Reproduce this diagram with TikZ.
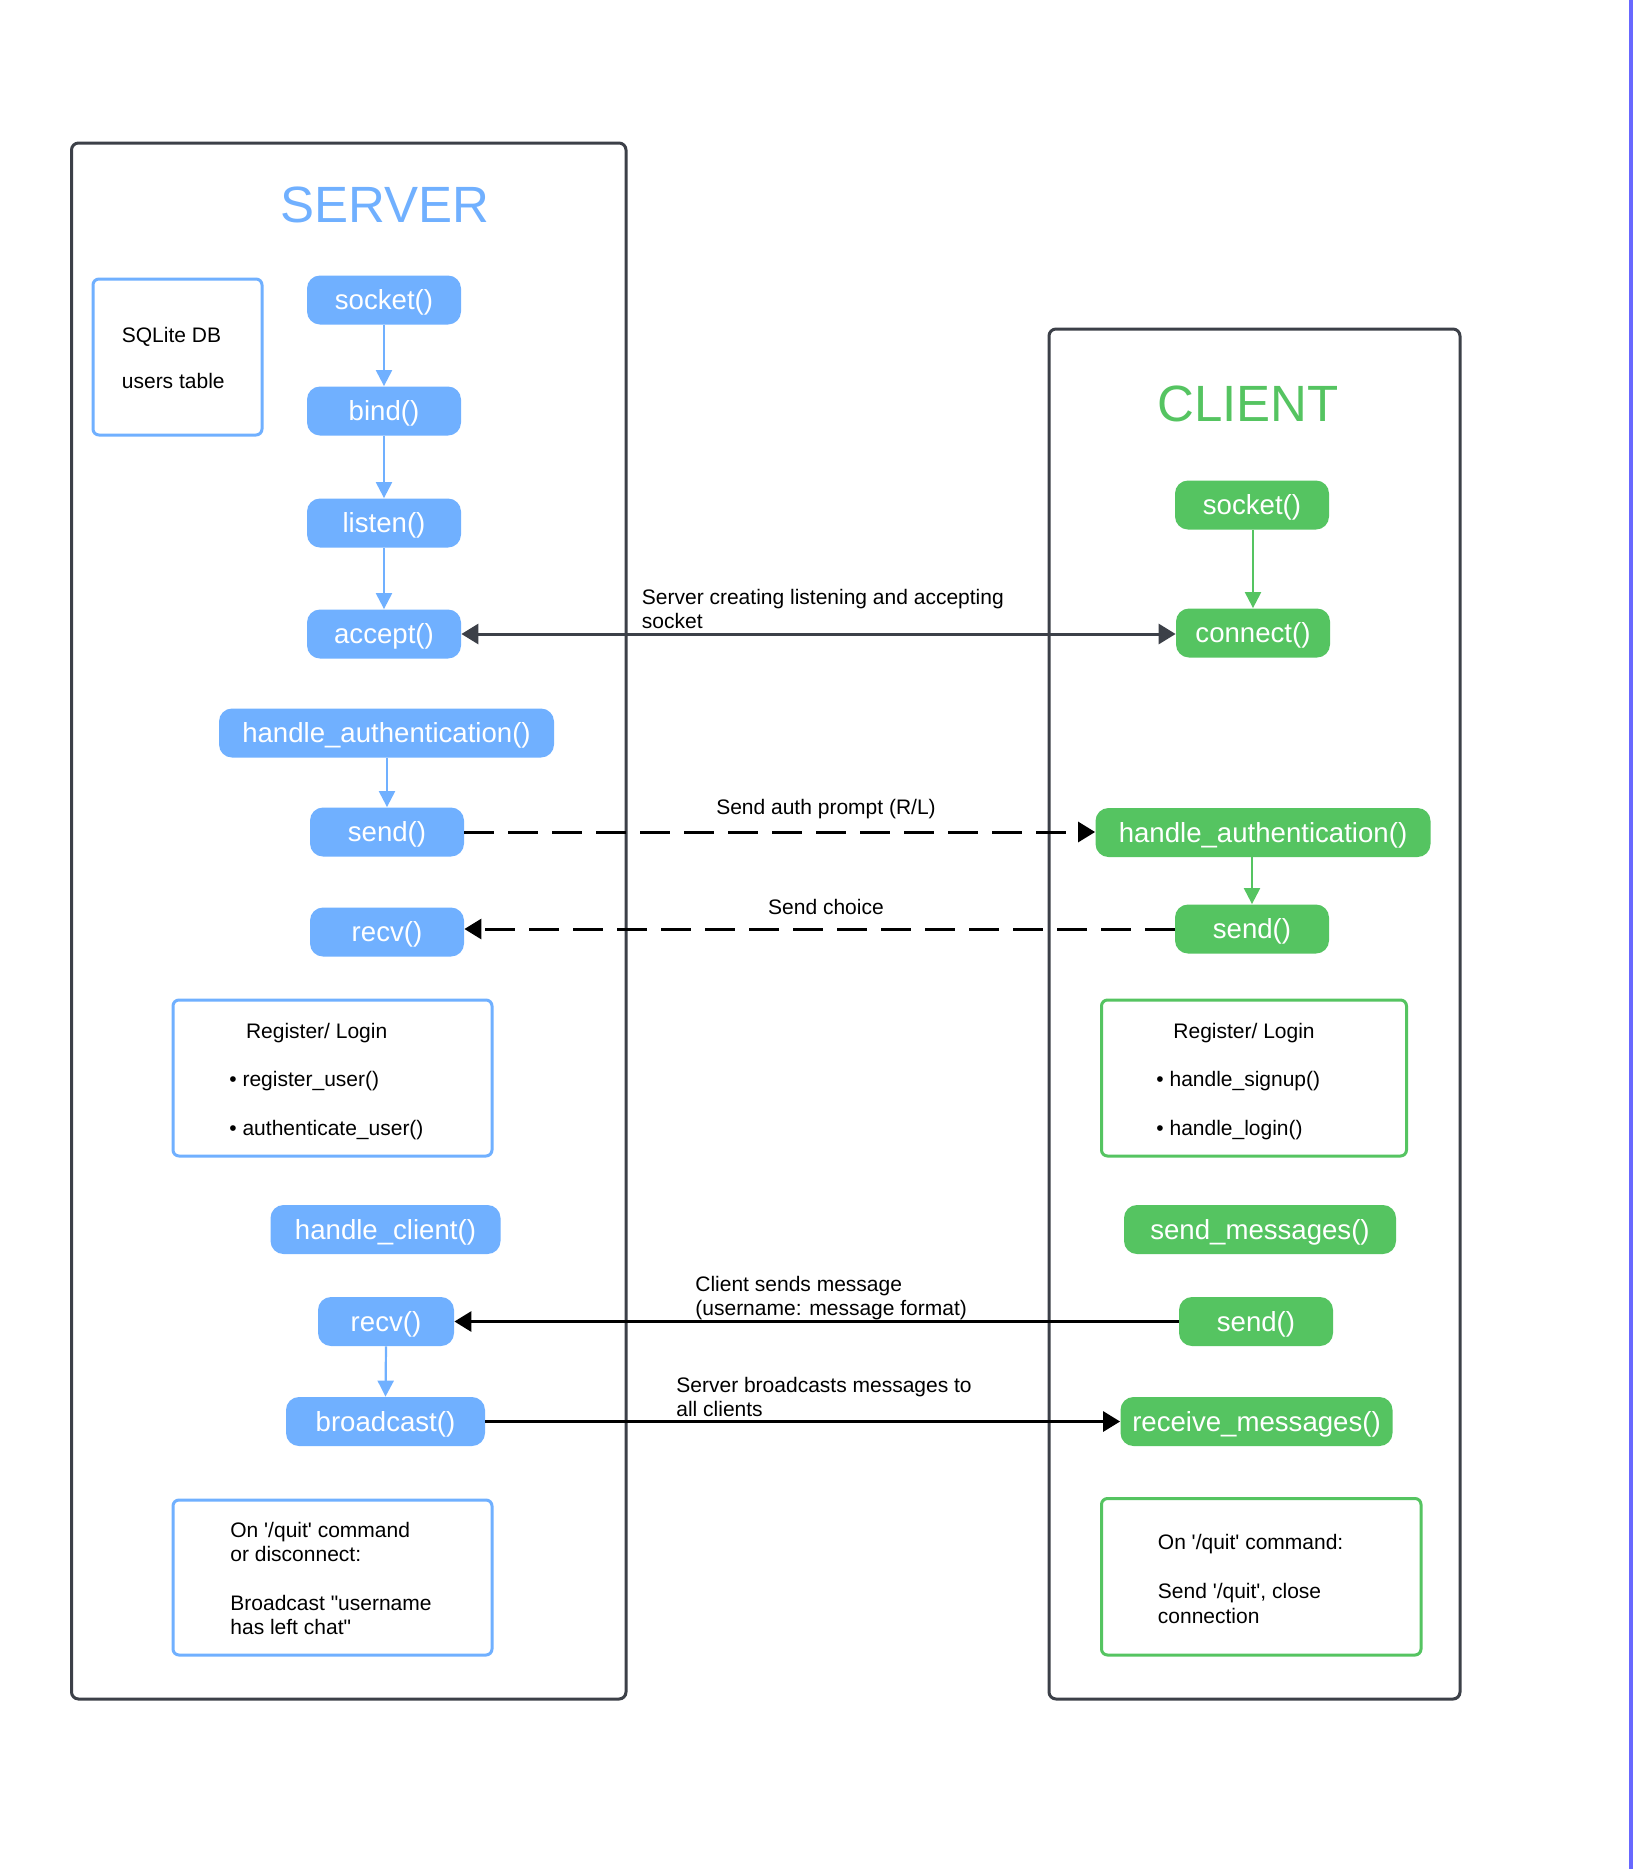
\documentclass[tikz,border=0pt]{standalone}
\usepackage{fontspec}
\setmainfont{Liberation Sans}[Ligatures=TeXOff]
\usetikzlibrary{arrows.meta}

\definecolor{srvblue}{RGB}{112,176,255}
\definecolor{cligreen}{RGB}{85,196,97}
\definecolor{lanegrey}{RGB}{60,64,72}
\definecolor{edgepurple}{RGB}{104,104,255}

\begin{document}
\begin{tikzpicture}[x=0.5pt,y=-0.5pt,
  lanebox/.style={draw=lanegrey,line width=1.5pt,rounded corners=3.5pt},
  srvbox/.style={draw=srvblue,line width=1.5pt,rounded corners=3pt},
  clibox/.style={draw=cligreen,line width=1.5pt,rounded corners=3pt},
  callbox/.style={rounded corners=6.5pt,text=white,minimum height=24.5pt,inner sep=0pt,
    text height=10pt,text depth=0.5pt,font=\fontsize{13.8}{16}\selectfont},
  srvcall/.style={callbox,fill=srvblue},
  clicall/.style={callbox,fill=cligreen},
  sidetitle/.style={font=\fontsize{25.5}{30}\selectfont},
  notetext/.style={align=left,inner sep=0pt,font=\fontsize{10.5}{12.25}\selectfont},
  flow/.style={line width=1.1pt,-{Triangle[length=8pt,width=8pt]}},
  msgline/.style={line width=1.5pt,-{Triangle[length=8.5pt,width=10pt]}},
  ]
  \fill[white] (0,0) rectangle (1638,1869);
  \useasboundingbox (0,0) rectangle (1638,1869);
  \draw[edgepurple,line width=2pt] (1631,0) -- (1631,1869);

  % server side
  \draw[lanebox] (71.5,143) rectangle (626,1699);
  \node[sidetitle,text=srvblue] (srvtitle) at (385,205) {SERVER};
  \draw[srvbox] (93,279) rectangle (262,435);
  \node[notetext,anchor=north west] (dbtext) at (121.5,326.5) {SQLite DB\\[11pt]users table};

  \node[srvcall,minimum width=77pt] (ssocket) at (384,300) {socket()};
  \node[srvcall,minimum width=77pt] (sbind) at (384,411) {bind()};
  \node[srvcall,minimum width=77pt] (slisten) at (384,523) {listen()};
  \node[srvcall,minimum width=77pt] (saccept) at (384,634) {accept()};
  \node[srvcall,minimum width=167.5pt] (sauth) at (386.5,733) {handle\_authentication()};
  \node[srvcall,minimum width=77pt] (ssend) at (387,832) {send()};
  \node[srvcall,minimum width=77pt] (srecv) at (387,932) {recv()};

  \draw[srvbox] (173,1000) rectangle (492,1156);
  \node[notetext,anchor=north west] (sregtext) at (229,1022.5)
    {\hspace*{8.3pt}Register/ Login\\[12pt]\textbullet\ register\_user()\\[12pt]\textbullet\ authenticate\_user()};

  \node[srvcall,minimum width=115pt] (shandle) at (385.5,1229.5) {handle\_client()};
  \node[srvcall,minimum width=68pt] (srecvmsg) at (386,1321.5) {recv()};
  \node[srvcall,minimum width=99.5pt] (sbcast) at (385.5,1421.5) {broadcast()};

  \draw[srvbox] (173,1500) rectangle (492,1655);
  \node[notetext,anchor=north west] (squittext) at (230,1521.5)
    {On '/quit' command\\or disconnect:\\[12pt]Broadcast "username\\has left chat"};

  % client side
  \draw[lanebox] (1049,329) rectangle (1460,1699);
  \node[sidetitle,text=cligreen] (clititle) at (1248,404) {CLIENT};

  \node[clicall,minimum width=77pt] (csocket) at (1252,505) {socket()};
  \node[clicall,minimum width=77pt] (cconnect) at (1253,633) {connect()};
  \node[clicall,minimum width=167.5pt] (cauth) at (1263,832.5) {handle\_authentication()};
  \node[clicall,minimum width=77pt] (csend) at (1252,929) {send()};

  \draw[clibox] (1101.5,1000) rectangle (1406.5,1156);
  \node[notetext,anchor=north west] (cregtext) at (1156,1022.5)
    {\hspace*{8.5pt}Register/ Login\\[12pt]\textbullet\ handle\_signup()\\[12pt]\textbullet\ handle\_login()};

  \node[clicall,minimum width=136pt] (csendmsg) at (1260,1229.5) {send\_messages()};
  \node[clicall,minimum width=77pt] (csendm) at (1256,1321.5) {send()};
  \node[clicall,minimum width=136pt] (crecvmsg) at (1256.5,1421.5) {receive\_messages()};

  \draw[clibox] (1101.5,1498.5) rectangle (1421,1655);
  \node[notetext,anchor=north west] (cquittext) at (1157.5,1533.5)
    {On '/quit' command:\\[12.5pt]Send '/quit', close\\connection};

  % steps inside each side
  \draw[flow,srvblue] (ssocket.south) -- (sbind.north);
  \draw[flow,srvblue] (sbind.south) -- (slisten.north);
  \draw[flow,srvblue] (slisten.south) -- (saccept.north);
  \draw[flow,srvblue] (sauth.south -| ssend.north) -- (ssend.north);
  \draw[flow,srvblue] (srecvmsg.south) -- (sbcast.north);
  \draw[flow,cligreen] (csocket.south -| cconnect.north) -- (cconnect.north);
  \draw[flow,cligreen] (cauth.south -| csend.north) -- (csend.north);

  % messages between server and client
  \draw[msgline,lanegrey,{Triangle[length=8.5pt,width=10pt]}-{Triangle[length=8.5pt,width=10pt]}]
    (saccept.east) -- (saccept.east -| cconnect.west);
  \node[notetext,anchor=north west] (lblaccept) at (641.5,588.5) {Server creating listening and accepting\\socket};

  \draw[msgline,dash pattern=on 15pt off 7pt] (ssend.east) -- (ssend.east -| cauth.west);
  \node[notetext] (lblprompt) at (826,809) {Send auth prompt (R/L)};

  \draw[msgline,dash pattern=on 15pt off 7pt] (csend.west) -- (csend.west -| srecv.east);
  \node[notetext] (lblchoice) at (826,907) {Send choice};

  \draw[msgline] (csendm.west) -- (csendm.west -| srecvmsg.east);
  \node[notetext,anchor=north west] (lblsend) at (695,1275.5) {Client sends message\\(username: message format)};

  \draw[msgline] (sbcast.east) -- (sbcast.east -| crecvmsg.west);
  \node[notetext,anchor=north west] (lblbcast) at (676,1376.5) {Server broadcasts messages to\\all clients};
\end{tikzpicture}
\end{document}
